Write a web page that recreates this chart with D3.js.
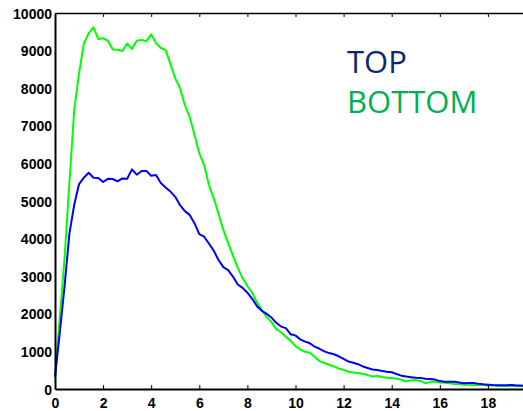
<!DOCTYPE html>
<html>
<head>
<meta charset="utf-8">
<script src="https://cdn.jsdelivr.net/npm/d3@7"></script>
<style>
  html, body { margin: 0; padding: 0; background: #fff; }
  svg { display: block; }
</style>
</head>
<body>
<svg id="chart" width="523" height="411"></svg>
<script>
// ---- data ----
const xValues = [
  0, 0.2, 0.4, 0.6, 0.8, 1.0, 1.2, 1.4, 1.6, 1.8,
  2.0, 2.2, 2.4, 2.6, 2.8, 3.0, 3.2, 3.4, 3.6, 3.8,
  4.0, 4.2, 4.4, 4.6, 4.8, 5.0, 5.2, 5.4, 5.6, 5.8,
  6.0, 6.2, 6.4, 6.6, 6.8, 7.0, 7.2, 7.4, 7.6, 7.8,
  8.0, 8.2, 8.4, 8.6, 8.8, 9.0, 9.2, 9.4, 9.6, 9.8,
  10.0, 10.2, 10.4, 10.6, 10.8, 11.0, 11.2, 11.4, 11.6, 11.8,
  12.0, 12.2, 12.4, 12.6, 12.8, 13.0, 13.2, 13.4, 13.6, 13.8,
  14.0, 14.2, 14.4, 14.6, 14.8, 15.0, 15.2, 15.4, 15.6, 15.8,
  16.0, 16.2, 16.4, 16.6, 16.8, 17.0, 17.2, 17.4, 17.6, 17.8,
  18.0, 18.2, 18.4, 18.6, 18.8, 19.0, 19.2, 19.4, 19.6
];
const topValues = [
  330, 1500, 2750, 4140, 4900, 5450, 5620, 5750, 5620, 5610,
  5505, 5590, 5585, 5520, 5600, 5590, 5840, 5700, 5800, 5800,
  5670, 5690, 5480, 5360, 5250, 5110, 4890, 4730, 4630, 4410,
  4120, 4050, 3870, 3680, 3430, 3240, 3160, 2990, 2780, 2690,
  2560, 2400, 2200, 2080, 2000, 1900, 1760, 1660, 1620, 1455,
  1425, 1320, 1260, 1215, 1125, 1070, 1000, 955, 925, 870,
  800, 730, 700, 660, 600, 560, 520, 505, 480, 460,
  445, 400, 355, 330, 315, 300, 290, 275, 268, 250,
  210, 195, 195, 190, 170, 150, 158, 160, 140, 125,
  115, 105, 102, 100, 103, 105, 95, 90, 88
];
const bottomValues = [
  300, 1900, 3500, 5500, 7420, 8400, 9190, 9460, 9620, 9310,
  9330, 9260, 9030, 9020, 8990, 9190, 9040, 9260, 9280, 9250,
  9430, 9200, 9070, 9020, 8640, 8260, 8000, 7550, 7240, 6760,
  6270, 5960, 5430, 5070, 4670, 4230, 3880, 3550, 3220, 2950,
  2740, 2560, 2300, 2100, 1920, 1780, 1590, 1510, 1390, 1280,
  1140, 1050, 990, 965, 860, 740, 690, 645, 600, 540,
  510, 460, 437, 425, 405, 370, 330, 345, 320, 300,
  290, 270, 245, 200, 235, 230, 215, 150, 190, 190,
  175, 165, 150, 135, 125, 115, 110, 100, 105, 105,
  95, 90, 85, 80, 80, 80, 78, 75, 72
];
const seriesNames = ["TOP", "BOTTOM"];
const xTicks = [0, 2, 4, 6, 8, 10, 12, 14, 16, 18];
const yTicks = [0, 1000, 2000, 3000, 4000, 5000, 6000, 7000, 8000, 9000, 10000];

// ---- layout ----
const svg = d3.select("#chart");
const mLeft = 55, mTop = 13, mBottom = 389;
const x = d3.scaleLinear().domain([0, 20]).range([mLeft, mLeft + 20 * 24.05]);
const y = d3.scaleLinear().domain([0, 10000]).range([mBottom, mTop]);

const series = [
  { name: seriesNames[0], values: topValues, color: "#0000ff" },
  { name: seriesNames[1], values: bottomValues, color: "#00ff00" }
];

// lines
const line = d3.line().x(d => x(d[0])).y(d => y(d[1]));
series.slice().reverse().forEach(s => {
  svg.append("path")
    .datum(xValues.map((v, i) => [v, s.values[i]]))
    .attr("fill", "none")
    .attr("stroke", s.color)
    .attr("stroke-width", 2)
    .attr("stroke-linejoin", "round")
    .attr("d", line);
});

// axes
const font = "'Liberation Sans', Arial, sans-serif";
const xAxis = svg.append("g").attr("transform", `translate(0,${mBottom})`)
  .call(d3.axisBottom(x).tickValues(xTicks).tickFormat(d3.format("d"))
    .tickSizeInner(-4).tickSizeOuter(0).tickPadding(9));
const xTop = svg.append("g").attr("transform", `translate(0,${mTop})`)
  .call(d3.axisTop(x).tickValues(xTicks).tickSizeInner(-4).tickSizeOuter(0).tickFormat(""));
const yAxis = svg.append("g").attr("transform", `translate(${mLeft},0)`)
  .call(d3.axisLeft(y).tickValues(yTicks).tickFormat(d3.format("d")).tickSize(0).tickPadding(3));

[xAxis, xTop, yAxis].forEach(g => {
  g.selectAll("text").attr("font-family", font).attr("font-size", 14)
    .attr("font-weight", "bold").attr("fill", "#000");
  g.selectAll("line").attr("stroke", "#000").attr("stroke-width", 1);
  g.select(".domain").attr("stroke", "#000").attr("stroke-width", 2);
});
xTop.select(".domain").attr("stroke-width", 1.5);
xAxis.selectAll("text").attr("dy", "0.71em");
yAxis.selectAll("text").attr("dy", "0.36em");

// legend
const legendColors = ["#0b2a6e", "#00b050"];
seriesNames.forEach((n, i) => {
  svg.append("text")
    .attr("x", 347).attr("y", 73 + i * 40)
    .attr("font-family", "'Open Sans', sans-serif")
    .attr("font-size", 31)
    .attr("fill", legendColors[i])
    .text(n);
});
</script>
</body>
</html>
